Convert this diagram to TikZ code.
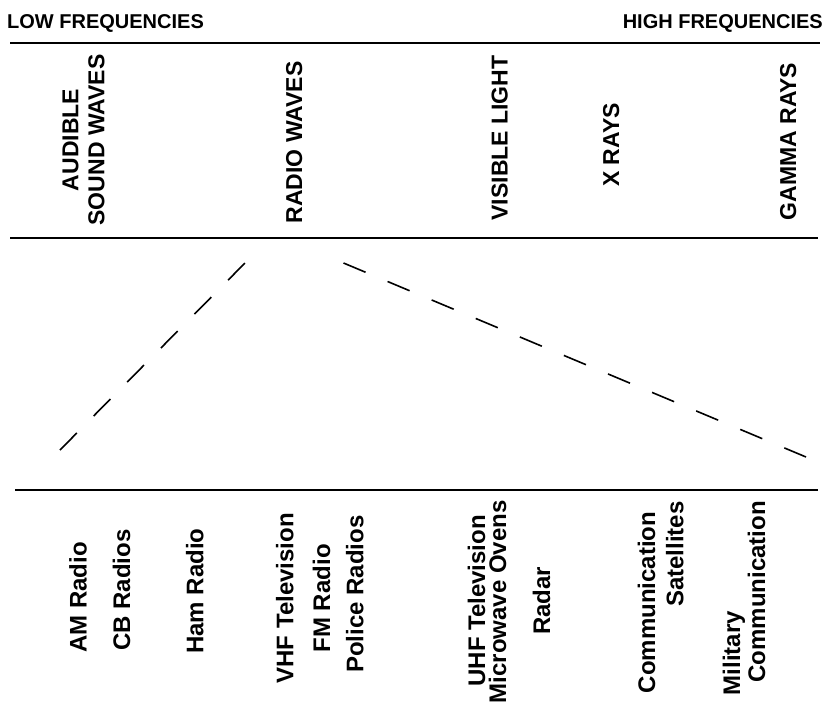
\documentclass[tikz,border=0pt]{standalone}
\usepackage{fontspec}
\setmainfont{Liberation Sans}
\begin{document}
\begin{tikzpicture}[x=1pt,y=-1pt,
  corner/.style={font=\bfseries\fontsize{20}{24}\selectfont, inner sep=0pt},
  band/.style={font=\bfseries\fontsize{23}{26}\selectfont, inner sep=0pt, rotate=90, anchor=base},
  item/.style={font=\bfseries\fontsize{24}{28}\selectfont, inner sep=0pt, rotate=90, anchor=base},
  rule/.style={line width=1.8pt},
  spread/.style={line width=1.6pt, dash pattern=on 23.9pt off 23.9pt}]
\useasboundingbox (0,0) rectangle (826,709);

% headings
\node[corner, anchor=base west] (low) at (7,29) {LOW FREQUENCIES};
\node[corner, anchor=base east] (high) at (823,29) {HIGH FREQUENCIES};

% horizontal rules
\draw[rule] (10,43) -- (820,43);
\draw[rule] (10,238) -- (818,238);
\draw[rule] (15,490) -- (818,490);

% spectrum bands
\node[font=\bfseries\fontsize{23}{26}\selectfont, inner sep=0pt, rotate=90,
      align=center, anchor=center] (sound) at (83.5,140) {AUDIBLE\\SOUND WAVES};
\node[band] (radio) at (302,142.5) {RADIO WAVES};
\node[band] (light) at (507.5,138) {VISIBLE LIGHT};
\node[band] (xray) at (619,145) {X RAYS};
\node[band] (gamma) at (796,141.5) {GAMMA RAYS};

% dashed spread of the radio band
\coordinate (lb) at (60,450);
\coordinate (lt) at (245,263);
\coordinate (rt) at (343.5,263);
\coordinate (rb) at (806,457);
\draw[spread] (lb) -- (lt);
\draw[spread] (rt) -- (rb);

% radio uses
\node[item] (am) at (86.7,597.5) {AM Radio};
\node[item] (cb) at (130,590) {CB Radios};
\node[item] (ham) at (203.3,591) {Ham Radio};
\node[item] (vhf) at (293.3,598.3) {VHF Television};
\node[item] (fm) at (330,598.3) {FM Radio};
\node[item] (police) at (363.3,594.2) {Police Radios};
\node[item] (uhf) at (485,600.8) {UHF Television};
\node[item] (micro) at (506,601.7) {Microwave Ovens};
\node[item] (radar) at (550,600.8) {Radar};
\node[item] (comm) at (655,602.5) {Communication};
\node[item] (sat) at (683.3,554.2) {Satellites};
\node[item] (mil) at (740,653.3) {Military};
\node[item] (milcomm) at (765,591.7) {Communication};
\end{tikzpicture}
\end{document}
